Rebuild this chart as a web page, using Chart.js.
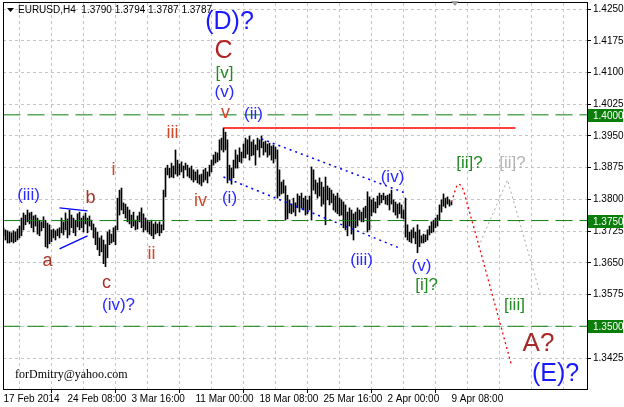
<!DOCTYPE html>
<html>
<head>
<meta charset="utf-8">
<script src="https://cdn.jsdelivr.net/npm/chart.js@4"></script>
<style>
  html, body { margin: 0; padding: 0; background: #fff; }
  #wrap { width: 624px; height: 407px; position: relative; }
</style>
</head>
<body>
<div id="wrap"><canvas id="chart" width="624" height="407"></canvas></div>
<script>
// EURUSD H4 bars, 17 Feb 2014 .. 9 Apr 2014 (index = bar number)
const highs = [
  1.3733,1.3728,1.3726,1.3723,1.3721,1.3726,1.3723,1.3730,1.3737,1.3756,
  1.3768,1.3763,1.3775,1.3768,1.3770,1.3761,1.3763,1.3756,1.3751,1.3747,
  1.3759,1.3751,1.3744,1.3740,1.3728,1.3730,1.3726,1.3730,1.3733,1.3756,
  1.3747,1.3768,1.3754,1.3775,1.3763,1.3756,1.3751,1.3766,1.3770,1.3756,
  1.3761,1.3768,1.3756,1.3761,1.3751,1.3742,1.3733,1.3723,1.3709,1.3714,
  1.3704,1.3693,1.3723,1.3728,1.3718,1.3733,1.3737,1.3803,1.3822,1.3827,
  1.3792,1.3789,1.3782,1.3775,1.3763,1.3770,1.3751,1.3761,1.3770,1.3780,
  1.3766,1.3756,1.3751,1.3747,1.3751,1.3742,1.3747,1.3742,1.3747,1.3740,
  1.3822,1.3874,1.3881,1.3874,1.3886,1.3879,1.3917,1.3893,1.3884,1.3889,
  1.3879,1.3886,1.3881,1.3874,1.3879,1.3870,1.3865,1.3870,1.3858,1.3860,
  1.3870,1.3874,1.3865,1.3881,1.3893,1.3905,1.3912,1.3910,1.3941,1.3945,
  1.3969,1.3959,1.3941,1.3881,1.3874,1.3893,1.3917,1.3905,1.3922,1.3912,
  1.3931,1.3945,1.3941,1.3950,1.3936,1.3941,1.3929,1.3945,1.3941,1.3950,
  1.3936,1.3938,1.3931,1.3933,1.3926,1.3929,1.3924,1.3917,1.3870,1.3841,
  1.3846,1.3832,1.3810,1.3799,1.3789,1.3803,1.3792,1.3813,1.3808,1.3815,
  1.3803,1.3808,1.3799,1.3808,1.3877,1.3870,1.3846,1.3839,1.3851,1.3841,
  1.3829,1.3853,1.3832,1.3827,1.3822,1.3813,1.3808,1.3815,1.3803,1.3799,
  1.3794,1.3787,1.3770,1.3780,1.3775,1.3766,1.3770,1.3780,1.3775,1.3770,
  1.3780,1.3784,1.3818,1.3806,1.3799,1.3803,1.3794,1.3808,1.3815,1.3810,
  1.3815,1.3808,1.3810,1.3813,1.3822,1.3799,1.3794,1.3789,1.3792,1.3787,
  1.3775,1.3803,1.3740,1.3723,1.3728,1.3733,1.3723,1.3740,1.3728,1.3714,
  1.3718,1.3716,1.3728,1.3737,1.3747,1.3751,1.3756,1.3763,1.3787,1.3799,
  1.3813,1.3803,1.3806,1.3799,1.3794
];
const lows = [
  1.3714,1.3704,1.3697,1.3697,1.3700,1.3697,1.3700,1.3704,1.3709,1.3714,
  1.3728,1.3740,1.3747,1.3742,1.3733,1.3723,1.3737,1.3718,1.3714,1.3726,
  1.3733,1.3688,1.3685,1.3695,1.3700,1.3709,1.3704,1.3714,1.3709,1.3721,
  1.3716,1.3728,1.3709,1.3716,1.3733,1.3721,1.3714,1.3735,1.3728,1.3733,
  1.3723,1.3742,1.3721,1.3737,1.3728,1.3709,1.3693,1.3681,1.3667,1.3676,
  1.3648,1.3641,1.3662,1.3693,1.3697,1.3700,1.3693,1.3728,1.3763,1.3775,
  1.3766,1.3756,1.3747,1.3742,1.3733,1.3737,1.3728,1.3730,1.3747,1.3733,
  1.3723,1.3728,1.3723,1.3718,1.3714,1.3707,1.3718,1.3721,1.3714,1.3721,
  1.3728,1.3806,1.3858,1.3851,1.3853,1.3851,1.3860,1.3855,1.3858,1.3865,
  1.3851,1.3870,1.3855,1.3851,1.3846,1.3841,1.3846,1.3839,1.3836,1.3832,
  1.3841,1.3846,1.3839,1.3855,1.3865,1.3881,1.3886,1.3889,1.3893,1.3917,
  1.3912,1.3917,1.3839,1.3846,1.3836,1.3851,1.3874,1.3874,1.3889,1.3886,
  1.3898,1.3898,1.3907,1.3893,1.3903,1.3905,1.3881,1.3917,1.3900,1.3922,
  1.3905,1.3912,1.3900,1.3905,1.3893,1.3886,1.3896,1.3803,1.3808,1.3813,
  1.3815,1.3751,1.3754,1.3768,1.3766,1.3770,1.3761,1.3780,1.3770,1.3780,
  1.3775,1.3763,1.3766,1.3775,1.3751,1.3822,1.3813,1.3803,1.3808,1.3784,
  1.3789,1.3740,1.3799,1.3787,1.3792,1.3775,1.3770,1.3766,1.3761,1.3763,
  1.3733,1.3728,1.3714,1.3737,1.3718,1.3704,1.3733,1.3737,1.3751,1.3747,
  1.3747,1.3756,1.3723,1.3728,1.3761,1.3770,1.3768,1.3780,1.3787,1.3792,
  1.3799,1.3789,1.3787,1.3775,1.3789,1.3770,1.3763,1.3756,1.3766,1.3756,
  1.3754,1.3711,1.3704,1.3700,1.3697,1.3709,1.3695,1.3674,1.3688,1.3697,
  1.3697,1.3700,1.3704,1.3716,1.3721,1.3723,1.3733,1.3737,1.3751,1.3770,
  1.3784,1.3780,1.3789,1.3784,1.3787
];

// date labels every 32 bars
const dateLabels = ['17 Feb 2014', '24 Feb 08:00', '3 Mar 16:00', '11 Mar 00:00',
                    '18 Mar 08:00', '25 Mar 16:00', '2 Apr 00:00', '9 Apr 08:00'];
const priceTicks = [1.4250, 1.4175, 1.4100, 1.4025, 1.3950, 1.3875, 1.3800,
                    1.3725, 1.3650, 1.3575, 1.3500, 1.3425];
const levelLines = [1.4000, 1.3750, 1.3500];   // green horizontal levels

// drawn objects: [barIndex, price]
const redLine = [[110, 1.3969], [256, 1.3969]];
const chanUpper = [[129, 1.3943], [201, 1.3815]];
const chanLower = [[110, 1.3853], [198, 1.3685]];
const triUpper = [[28, 1.3780], [42, 1.3773]];
const triLower = [[28, 1.3683], [42, 1.3714]];
const redPath = [[224, 1.3794], [227.5, 1.3836], [229.5, 1.3827], [232, 1.3787], [254, 1.3408]];
const grayPath = [[237.5, 1.3688], [252, 1.3846], [268.5, 1.3574]];

// wave labels: text, barIndex, price, colour, size
const waveLabels = [
  ['(iii)', 12.5, 1.3810, '#2a2aff', 17],
  ['a', 22, 1.3654, '#a83228', 18],
  ['b', 43.5, 1.3803, '#a83228', 18],
  ['c', 51.5, 1.3602, '#a83228', 18],
  ['(iv)?', 57.5, 1.3550, '#2a2aff', 17],
  ['i', 55, 1.3870, '#d0482a', 18],
  ['ii', 74, 1.3671, '#d0482a', 18],
  ['iii', 84.5, 1.3957, '#d0482a', 18],
  ['iv', 98.5, 1.3796, '#d0482a', 18],
  ['v', 111, 1.4004, '#d0482a', 18],
  ['(i)', 113, 1.3803, '#2a2aff', 17],
  ['(ii)', 125, 1.4002, '#2a2aff', 17],
  ['(v)', 110.5, 1.4054, '#2a2aff', 17],
  ['[v]', 110.5, 1.4099, '#228b22', 17],
  ['C', 110, 1.4151, '#b22222', 25],
  ['(D)?', 113, 1.4220, '#1a1aff', 25],
  ['(iii)', 179, 1.3657, '#2a2aff', 17],
  ['(iv)', 194.5, 1.3853, '#2a2aff', 17],
  ['(v)', 209, 1.3643, '#2a2aff', 17],
  ['[i]?', 211.5, 1.3598, '#228b22', 17],
  ['[ii]?', 233, 1.3886, '#228b22', 17],
  ['[ii]?', 254.5, 1.3886, '#b4b4b4', 17],
  ['[iii]', 255.5, 1.3550, '#228b22', 17],
  ['A?', 267.5, 1.3458, '#a52a2a', 26],
  ['(E)?', 276, 1.3387, '#1a1aff', 25]
];

const toXY = pts => pts.map(p => ({ x: p[0], y: p[1] }));
function lineSet(pts, color, width, dash, monotone) {
  return {
    type: 'line', data: toXY(pts), borderColor: color, borderWidth: width,
    borderDash: dash, pointRadius: 0, fill: false,
    cubicInterpolationMode: monotone ? 'monotone' : 'default', tension: 0
  };
}

const datasets = [];
levelLines.forEach(v => datasets.push(lineSet([[0, v], [292, v]], '#0c7c0c', 1, [17, 7])));
datasets.push(lineSet(redLine, '#ff0000', 1.5, []));
datasets.push(lineSet(chanUpper, '#0000ff', 1.5, [2, 4]));
datasets.push(lineSet(chanLower, '#0000ff', 1.5, [2, 4]));
datasets.push(lineSet(triUpper, '#0000ff', 1.3, []));
datasets.push(lineSet(triLower, '#0000ff', 1.3, []));
datasets.push(lineSet(redPath, '#ff0000', 1.3, [2, 3], true));
datasets.push(lineSet(grayPath, '#a8a8a8', 1, [2, 3]));
datasets.push({
  type: 'bar',
  data: highs.map((h, i) => ({ x: i, y: [lows[i], h] })),
  backgroundColor: '#000', borderWidth: 0, barThickness: 1, grouped: false
});

const overlay = {
  id: 'overlay',
  afterDraw(chart) {
    const ctx = chart.ctx, xs = chart.scales.x, ys = chart.scales.y, a = chart.chartArea;
    ctx.save();
    // wave labels
    ctx.textAlign = 'center';
    ctx.textBaseline = 'middle';
    waveLabels.forEach(l => {
      ctx.font = l[4] + 'px "Liberation Sans", Arial, sans-serif';
      ctx.fillStyle = l[3];
      ctx.fillText(l[0], xs.getPixelForValue(l[1]), ys.getPixelForValue(l[2]));
    });
    // frame
    ctx.strokeStyle = '#000';
    ctx.lineWidth = 1;
    ctx.strokeRect(Math.round(a.left) + 0.5, Math.round(a.top) - 0.5,
                   Math.round(a.right - a.left), Math.round(a.bottom - a.top) + 1);
    // green price boxes
    ctx.font = '10px "Liberation Sans", Arial, sans-serif';
    ctx.textAlign = 'left';
    levelLines.forEach(v => {
      const y = Math.round(ys.getPixelForValue(v));
      ctx.fillStyle = '#0a7d0a';
      ctx.fillRect(a.right + 1, y - 6, 624 - a.right - 2, 13);
      ctx.fillStyle = '#fff';
      ctx.fillText(v.toFixed(4), a.right + 6, y + 1);
    });
    // header
    ctx.fillStyle = '#000';
    ctx.beginPath();
    ctx.moveTo(7, 8); ctx.lineTo(14, 8); ctx.lineTo(10.5, 12); ctx.closePath();
    ctx.fill();
    ctx.font = '10px "Liberation Sans", Arial, sans-serif';
    ctx.fillText('EURUSD,H4  1.3790 1.3794 1.3787 1.3787', 18, 10);
    // shift marker
    ctx.fillStyle = '#a0a0a0';
    ctx.beginPath();
    ctx.moveTo(451, 1); ctx.lineTo(459, 1); ctx.lineTo(455, 6); ctx.closePath();
    ctx.fill();
    // signature
    ctx.fillStyle = '#000';
    ctx.font = '12px "Liberation Serif", "Times New Roman", serif';
    ctx.fillText('forDmitry@yahoo.com', 15, 375);
    ctx.restore();
  }
};

new Chart(document.getElementById('chart'), {
  data: { datasets },
  options: {
    responsive: false,
    animation: false,
    events: [],
    layout: { padding: { left: 3, top: 3, right: 0, bottom: 0 } },
    plugins: { legend: { display: false }, tooltip: { enabled: false } },
    scales: {
      x: {
        type: 'linear', position: 'bottom', min: -0.25, max: 291.75, offset: false,
        afterBuildTicks: s => { s.ticks = []; for (let v = 0; v <= 288; v += 16) s.ticks.push({ value: v }); },
        afterFit: s => { s.height = 18; s.paddingLeft = 0; s.paddingRight = 0; },
        ticks: {
          autoSkip: false, maxRotation: 0, align: 'start', padding: 0, color: '#000',
          font: { family: '"Liberation Sans", Arial, sans-serif', size: 10 },
          callback: v => (v % 32 === 0 && v / 32 < dateLabels.length) ? dateLabels[v / 32] : ''
        },
        grid: {
          color: '#c4c4c4', lineWidth: 1, tickLength: 4,
          tickColor: c => (c.tick && c.tick.value % 32 === 0 && c.tick.value <= 224) ? '#000' : 'rgba(0,0,0,0)'
        },
        border: { display: true, color: '#000', dash: [3, 3] }
      },
      y: {
        type: 'linear', position: 'right', min: 1.33517, max: 1.42645,
        afterBuildTicks: s => { s.ticks = priceTicks.map(v => ({ value: v })); },
        afterFit: s => { s.width = 37; s.paddingTop = 0; s.paddingBottom = 0; },
        ticks: {
          padding: 2, color: '#000',
          font: { family: '"Liberation Sans", Arial, sans-serif', size: 10 },
          callback: v => Math.abs(v - 1.35) < 1e-6 ? '' : v.toFixed(4)
        },
        grid: { color: '#c4c4c4', lineWidth: 1, tickLength: 4, tickColor: '#000' },
        border: { display: true, color: '#000', dash: [3, 3] }
      }
    }
  },
  plugins: [overlay]
});
</script>
</body>
</html>
